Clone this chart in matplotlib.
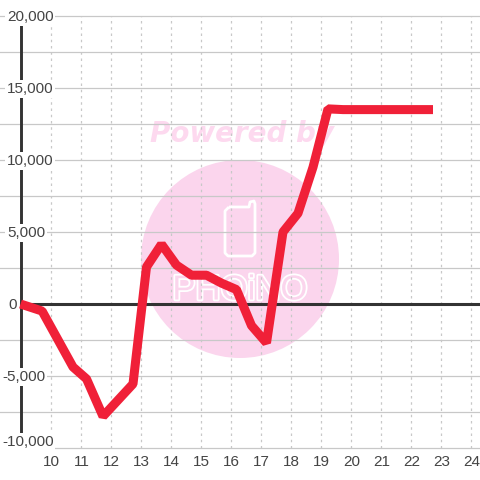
import matplotlib
matplotlib.use("Agg")
import matplotlib.pyplot as plt
import matplotlib.patheffects as pe
from matplotlib.patches import Ellipse, PathPatch
from matplotlib.path import Path

hours = [9, 9.72, 10.75, 11.2, 11.75, 12.75, 13.2, 13.7, 14.2, 14.7, 15.2, 15.7, 16.2, 16.7, 17.2,
         17.75, 18.25, 18.75, 19.25, 19.75, 20.25, 20.75, 21.25, 21.75, 22.25, 22.75]
profit = [0, -490, -4375, -5200, -7800, -5550, 2570, 4150, 2700, 2000, 2000, 1450, 1000, -1500, -2700,
          5000, 6300, 9500, 13550, 13500, 13500, 13500, 13500, 13500, 13500, 13500]
x_ticks = list(range(10, 25))
y_grid = [-10000, -7500, -5000, -2500, 2500, 5000, 7500, 10000, 12500, 15000, 17500, 20000]
y_label_vals = [-10000, -5000, 0, 5000, 10000, 15000, 20000]
y_labels = ["-10,000", "-5,000", "0", "5,000", "10,000", "15,000", "20,000"]

plt.rcParams['font.family'] = 'Liberation Sans'
fig = plt.figure(figsize=(4.8, 4.8), dpi=100)
ax = fig.add_axes([0, 0, 1, 1])
xmin, xmax = 10 - 50.5 / 30, 10 + (480 - 50.5) / 30
ax.set_xlim(xmin, xmax)
ax.set_ylim(-(480 - 304) / 72 * 5000, 304 / 72 * 5000)
ax.axis('off')
T = fig.transFigure
def P(x, y):
    return (x / 480, 1 - y / 480)

PINK = '#fbd5ed'
# watermark, under the grid
ax.add_patch(Ellipse(P(240, 259), 198 / 480, 198 / 480, transform=T, fc=PINK, ec='none', zorder=0))
phone = [P(229, 207), P(249, 207), P(250, 202), P(254, 201), P(255, 204), P(255, 253), P(252, 256),
         P(228, 256), P(225, 253), P(225, 211), P(229, 207)]
ax.add_patch(PathPatch(Path(phone), transform=T, fc='none', ec='white', lw=2, joinstyle='round', zorder=1))
ax.text(*P(242, 134), "Powered by", transform=T, ha='center', va='center', fontsize=20,
        fontweight='bold', style='italic', color='#fdd9ef', family='DejaVu Sans', zorder=1)
ax.text(*P(240, 290), "PHOiNO", transform=T, ha='center', va='center', fontsize=25, color=PINK, zorder=1,
        path_effects=[pe.withStroke(linewidth=2.6, foreground='white')])

for v in y_grid:
    ax.plot([xmin, xmax], [v, v], color='#c8c8c8', lw=0.9, zorder=2)
for t in x_ticks:
    ax.plot([t, t], [-10000, 20000], color='#c8c8c8', lw=0.9, ls=(0, (2, 3)), zorder=2)

ax.plot([9, 9], [-10000, 20000], color='#333333', lw=2.1, zorder=3)
ax.plot([9, xmax], [0, 0], color='#333333', lw=2.2, zorder=3)
ax.plot(hours, profit, color='#f02038', lw=6.5, solid_joinstyle='bevel', solid_capstyle='butt', zorder=4)

for v, s in zip(y_label_vals, y_labels):
    x_px = 2 if s.startswith('-') else (8 if s == '0' else 7)
    y_px = 442 if v == -10000 else 305 - v / 5000 * 72
    ax.text(*P(x_px, y_px), s, transform=T, ha='left', va='center', fontsize=11, color='#444444', zorder=5,
            bbox=dict(fc='white', ec='none', pad=1.2))
for t in x_ticks:
    ax.text(t + 0.03, -10000 - 14 / 72 * 5000, str(t), ha='center', va='center', fontsize=11, color='#444444', zorder=5)
fig.savefig("out.png", dpi=100)
